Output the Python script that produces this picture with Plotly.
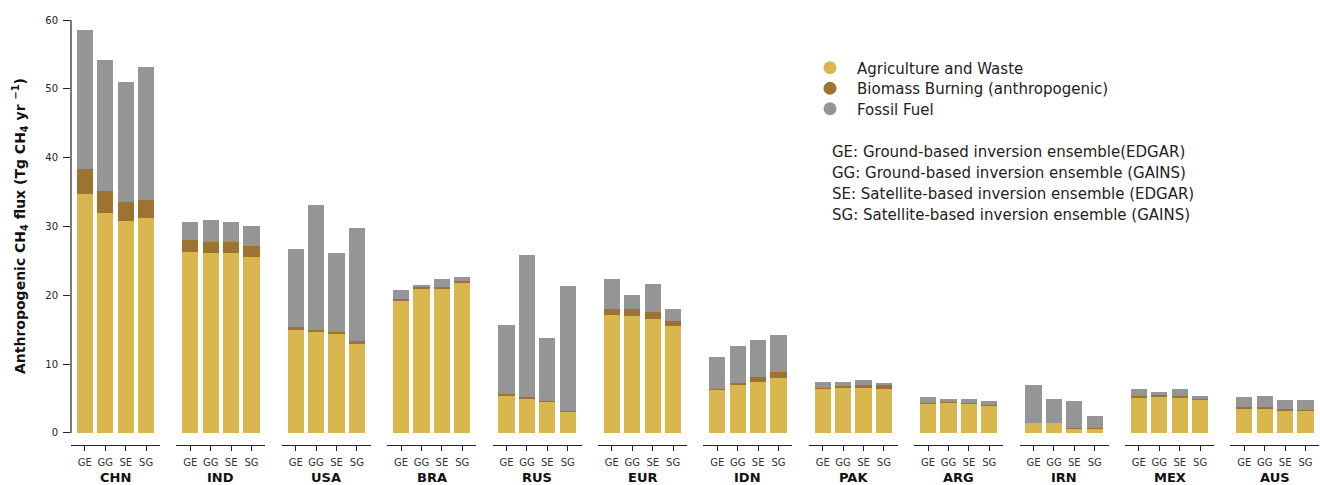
import plotly.graph_objects as go

countries = ["CHN", "IND", "USA", "BRA", "RUS", "EUR", "IDN", "PAK", "ARG", "IRN", "MEX", "AUS"]
ensembles = ["GE", "GG", "SE", "SG"]

agri = [
    [34.7, 31.9, 30.8, 31.2],
    [26.3, 26.1, 26.1, 25.5],
    [15.0, 14.6, 14.4, 12.9],
    [19.2, 20.9, 20.9, 21.8],
    [5.4, 5.0, 4.6, 3.1],
    [17.2, 17.0, 16.6, 15.5],
    [6.3, 7.0, 7.4, 8.0],
    [6.4, 6.6, 6.6, 6.4],
    [4.3, 4.4, 4.3, 4.0],
    [1.45, 1.45, 0.7, 0.6],
    [5.2, 5.3, 5.2, 4.8],
    [3.5, 3.6, 3.3, 3.3],
]
biomass = [
    [3.6, 3.2, 2.7, 2.7],
    [1.8, 1.7, 1.7, 1.7],
    [0.4, 0.4, 0.3, 0.4],
    [0.3, 0.3, 0.3, 0.3],
    [0.2, 0.2, 0.1, 0.1],
    [0.8, 1.0, 1.0, 0.7],
    [0.1, 0.2, 0.8, 0.9],
    [0.2, 0.2, 0.4, 0.5],
    [0.1, 0.1, 0.1, 0.1],
    [0.05, 0.05, 0.05, 0.05],
    [0.2, 0.2, 0.2, 0.2],
    [0.2, 0.2, 0.2, 0.1],
]
fossil = [
    [20.2, 19.1, 17.5, 19.3],
    [2.5, 3.2, 2.8, 2.8],
    [11.3, 18.1, 11.4, 16.5],
    [1.2, 0.3, 1.2, 0.5],
    [10.1, 20.7, 9.1, 18.2],
    [4.4, 2.0, 4.1, 1.8],
    [4.6, 5.4, 5.3, 5.4],
    [0.8, 0.6, 0.7, 0.3],
    [0.8, 0.5, 0.6, 0.6],
    [5.5, 3.5, 3.85, 1.75],
    [1.0, 0.4, 1.0, 0.3],
    [1.5, 1.5, 1.3, 1.4],
]

sector_names = ["Agriculture and Waste", "Biomass Burning (anthropogenic)", "Fossil Fuel"]
sector_colors = ["#D9B64E", "#9E7230", "#959595"]
sector_data = [agri, biomass, fossil]

ensemble_notes = [
    "GE: Ground-based inversion ensemble(EDGAR)",
    "GG: Ground-based inversion ensemble (GAINS)",
    "SE: Satellite-based inversion ensemble (EDGAR)",
    "SG: Satellite-based inversion ensemble (GAINS)",
]

FONT = "DejaVu Sans"
W, H = 1320, 485
ML, MR, MT, MB = 71, 0, 20, 40
PW = W - ML - MR
PH = H - MT - MB
PERIOD = 105.4
GW = 89.0


def py(pix):
    """pixel row -> paper y"""
    return (MT + PH - pix) / PH


def px(pix):
    """pixel column -> paper x"""
    return (pix - ML) / PW


fig = go.Figure()

for i, c in enumerate(countries):
    xa = "x" if i == 0 else f"x{i+1}"
    for s in range(3):
        fig.add_trace(go.Bar(
            x=ensembles, y=sector_data[s][i], xaxis=xa, yaxis="y",
            marker=dict(color=sector_colors[s], line=dict(width=0)),
            width=0.8, showlegend=False, name=sector_names[s],
        ))

legend_keys = ["legend", "legend2", "legend3"]
legend_rows = [68, 88.5, 109]
for s in range(3):
    fig.add_trace(go.Scatter(
        x=[None], y=[None], mode="markers", xaxis="x", yaxis="y",
        marker=dict(color=sector_colors[s], size=13, symbol="circle"),
        name=sector_names[s], showlegend=True, legend=legend_keys[s],
    ))

layout = dict(
    width=W, height=H,
    margin=dict(l=ML, r=MR, t=MT, b=MB, pad=0, autoexpand=False),
    barmode="stack", bargap=0.2,
    plot_bgcolor="white", paper_bgcolor="white",
    font=dict(family=FONT, color="#222"),
    showlegend=True,
    yaxis=dict(range=[-1.75, 60], tickvals=[0, 10, 20, 30, 40, 50, 60],
               ticks="outside", ticklen=7, tickwidth=1.2, tickcolor="#222",
               showline=False, showgrid=False, zeroline=False, automargin=False,
               ticklabelstandoff=3,
               tickfont=dict(size=10, family=FONT, color="#222"),
               anchor="x"),
)
for k, row in zip(legend_keys, legend_rows):
    layout[k] = dict(x=px(803), y=py(row), xanchor="left", yanchor="middle",
                     font=dict(size=15, family=FONT, color="#222"),
                     bgcolor="rgba(0,0,0,0)", itemwidth=44)

for i, c in enumerate(countries):
    key = "xaxis" if i == 0 else f"xaxis{i+1}"
    d0 = i * PERIOD / PW
    d1 = min(1.0, d0 + GW / PW)
    layout[key] = dict(
        domain=[d0, d1], anchor="y", type="category", automargin=False,
        range=[-0.68, 3.68], showline=True, linecolor="#222", linewidth=1.2,
        ticks="outside", ticklen=5, tickwidth=1.2, tickcolor="#222",
        showgrid=False, zeroline=False, ticklabelstandoff=3,
        tickfont=dict(size=10, family=FONT, color="#333"),
    )

fig.update_layout(**layout)

# trimmed y spine from 0 to 60
fig.add_shape(type="line", xref="x domain", yref="y", x0=0, x1=0, y0=0, y1=60,
              line=dict(color="#222", width=1.2))

# y axis title
fig.add_annotation(text="<b>Anthropogenic CH<sub>4</sub> flux (Tg CH<sub>4</sub> yr <sup>\u22121</sup>)</b>",
                   xref="paper", yref="paper", x=px(20), y=py(226), textangle=-90,
                   xanchor="center", yanchor="middle", showarrow=False,
                   font=dict(size=14, family=FONT, color="#111"))

# country group labels under each axis
for i, c in enumerate(countries):
    xr = "x domain" if i == 0 else f"x{i+1} domain"
    fig.add_annotation(text=f"<b>{c}</b>", xref=xr, yref="paper", x=0.5, y=py(477.5),
                       xanchor="center", yanchor="middle", showarrow=False,
                       font=dict(size=13, family=FONT, color="#111"))

note_rows = [152, 173, 194, 215]
for t, row in zip(ensemble_notes, note_rows):
    fig.add_annotation(text=t, xref="paper", yref="paper", x=px(829.5), y=py(row),
                       xanchor="left", yanchor="middle", showarrow=False,
                       font=dict(size=15, family=FONT, color="#222"))

fig.write_html("out.html", config={"displayModeBar": False},
               post_script="document.body.style.margin='0px';document.body.style.overflow='hidden';")
